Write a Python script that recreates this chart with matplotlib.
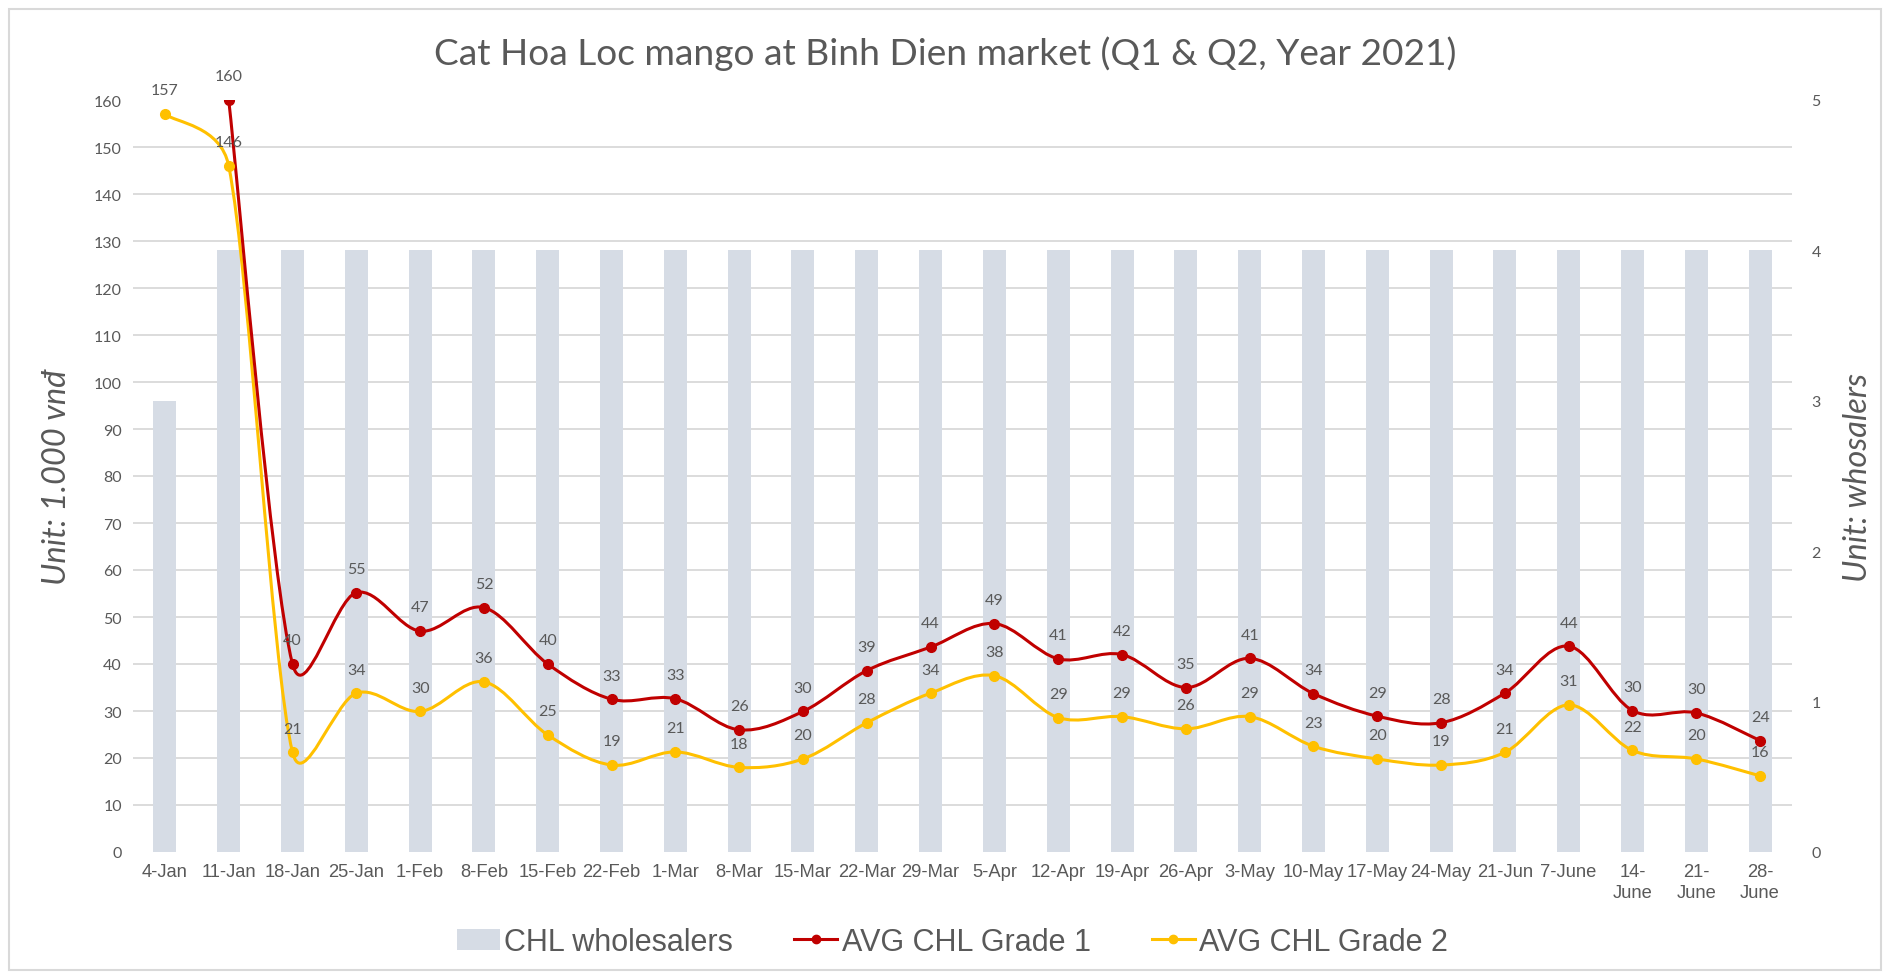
import math
import numpy as np
import matplotlib
matplotlib.use("Agg")
import matplotlib.pyplot as plt
from matplotlib.path import Path
from matplotlib.patches import PathPatch, Rectangle
from matplotlib.lines import Line2D

# ---------------- data ----------------
categories = ["4-Jan", "11-Jan", "18-Jan", "25-Jan", "1-Feb", "8-Feb", "15-Feb", "22-Feb",
              "1-Mar", "8-Mar", "15-Mar", "22-Mar", "29-Mar", "5-Apr", "12-Apr", "19-Apr",
              "26-Apr", "3-May", "10-May", "17-May", "24-May", "21-Jun", "7-June",
              "14-\nJune", "21-\nJune", "28-\nJune"]
wholesalers = [3, 4, 4, 4, 4, 4, 4, 4, 4, 4, 4, 4, 4, 4, 4, 4, 4, 4, 4, 4, 4, 4, 4, 4, 4, 4]
grade1 = [np.nan, 160, 40, 55.2, 47, 52, 40, 32.5, 32.6, 26, 29.9, 38.6, 43.6, 48.6,
          41.1, 42, 35, 41.2, 33.7, 28.9, 27.5, 33.8, 43.8, 30.1, 29.6, 23.7]
grade2 = [157, 146, 21.2, 33.8, 29.9, 36.2, 24.9, 18.5, 21.3, 18, 19.8, 27.5, 33.8, 37.5,
          28.6, 28.8, 26.2, 28.8, 22.5, 19.8, 18.5, 21.2, 31.3, 21.6, 19.8, 16.2]

title = "Cat Hoa Loc mango at Binh Dien market (Q1 & Q2, Year 2021)"
ylabel_left = "Unit: 1.000 vnđ"
ylabel_right = "Unit: whosalers"
legend_labels = ["CHL wholesalers", "AVG CHL Grade 1", "AVG CHL Grade 2"]

# ---------------- style ----------------
C_BAR = "#D6DCE5"
C_G1 = "#C00000"
C_G2 = "#FFC000"
C_TXT = "#595959"
C_GRID = "#D9D9D9"
F_MAIN = ["Lato", "DejaVu Sans"]
F_NARROW = ["Liberation Sans Narrow", "Liberation Sans", "DejaVu Sans"]

fig = plt.figure(figsize=(18.9, 9.79), dpi=100)
fig.patch.set_facecolor("white")

L, R, B, T = 133 / 1890, 1792 / 1890, 1 - 853 / 979, 1 - 101 / 979
ax2 = fig.add_axes([L, B, R - L, T - B])  # bars, right axis
ax = ax2.twinx()
ax.yaxis.tick_left()
ax.yaxis.set_label_position("left")
ax2.yaxis.tick_right()
ax2.yaxis.set_label_position("right")
ax.set_zorder(ax2.get_zorder() + 1)
ax.patch.set_visible(False)

x = np.arange(len(categories))

# bars
ax2.bar(x, wholesalers, width=0.36, color=C_BAR, zorder=2)
ax2.set_ylim(0, 5)
ax2.set_yticks(range(0, 6))
ax2.set_yticks(np.arange(0, 161, 10) * 5 / 160, minor=True)
ax2.grid(which="minor", axis="y", color=C_GRID, linewidth=1.3, zorder=0)
ax2.grid(which="major", visible=False)
ax2.tick_params(axis="y", which="both", length=0, pad=14, labelsize=11.5, labelcolor=C_TXT)
for lab in ax2.get_yticklabels():
    lab.set_family(F_MAIN)

ax.set_ylim(0, 160)
ax.set_yticks(range(0, 161, 10))
ax.tick_params(axis="y", length=0, pad=8, labelsize=11.5, labelcolor=C_TXT)
for lab in ax.get_yticklabels():
    lab.set_family(F_MAIN)

ax2.set_xlim(-0.5, len(categories) - 0.5)
ax.set_xlim(-0.5, len(categories) - 0.5)
ax2.set_xticks(x)
ax2.set_xticklabels(categories, fontsize=13.2, color=C_TXT, family=F_NARROW, linespacing=1.3)
ax2.tick_params(axis="x", length=0, pad=8)
ax.tick_params(axis="x", length=0)

for a in (ax, ax2):
    for s in a.spines.values():
        s.set_visible(False)


def smooth_path(xs, ys, transform):
    """Smoothed (Bezier) path through the points, computed in pixel space."""
    pts = transform.transform(np.column_stack([xs, ys]))
    verts = [pts[0]]
    codes = [Path.MOVETO]
    n = len(pts)
    for i in range(n - 1):
        p0 = pts[i - 1] if i > 0 else pts[i]
        p1 = pts[i]
        p2 = pts[i + 1]
        p3 = pts[i + 2] if i + 2 < n else pts[i + 1]
        seg = np.hypot(*(p2 - p1))
        t1 = (p2 - p0) / 6.0
        t2 = (p3 - p1) / 6.0
        for t in (t1, t2):
            ln = np.hypot(*t)
            if ln > 0.5 * seg:
                t *= 0.5 * seg / ln
        verts += [p1 + t1, p2 - t2, p2]
        codes += [Path.CURVE4] * 3
    verts = transform.inverted().transform(np.array(verts))
    return Path(verts, codes)


for vals, col in ((grade2, C_G2), (grade1, C_G1)):
    v = np.array(vals, dtype=float)
    m = ~np.isnan(v)
    xs, ys = x[m], v[m]
    ax.add_patch(PathPatch(smooth_path(xs, ys, ax.transData), facecolor="none", edgecolor=col,
                           linewidth=2.2, zorder=3, capstyle="round", joinstyle="round"))
    ax.plot(xs, ys, linestyle="none", marker="o", markersize=7, color=col, zorder=4)
    for xi, yi in zip(xs, ys):
        ax.annotate(str(int(math.floor(yi + 0.5))), (xi, yi), xytext=(0, 17),
                    textcoords="offset points", ha="center", va="center",
                    fontsize=11.5, color=C_TXT, family=F_MAIN, zorder=5)

ax.set_ylabel(ylabel_left, fontsize=23.5, style="italic", color=C_TXT, family=F_MAIN, labelpad=16)
ax2.set_ylabel(ylabel_right, fontsize=23.5, style="italic", color=C_TXT, family=F_MAIN,
               labelpad=16, rotation=90)

fig.text(0.5, 1 - 54 / 979, title, ha="center", va="center", fontsize=26.7,
         color=C_TXT, family=F_MAIN)

handles = [Rectangle((0, 0), 1, 1, facecolor=C_BAR, edgecolor="none"),
           Line2D([], [], color=C_G1, linewidth=2.2, marker="o", markersize=6),
           Line2D([], [], color=C_G2, linewidth=2.2, marker="o", markersize=6)]
fig.legend(handles, legend_labels, loc="center", bbox_to_anchor=(0.504, 1 - 943 / 979),
           ncol=3, frameon=False, prop={"family": F_NARROW, "size": 22},
           labelcolor=C_TXT, handlelength=1.4, handletextpad=0.15, columnspacing=2.0)

fig.add_artist(Rectangle((0.005, 0.008), 0.99, 0.982, transform=fig.transFigure,
                         facecolor="none", edgecolor=C_GRID, linewidth=1.5))

fig.savefig("out.png", dpi=100)
